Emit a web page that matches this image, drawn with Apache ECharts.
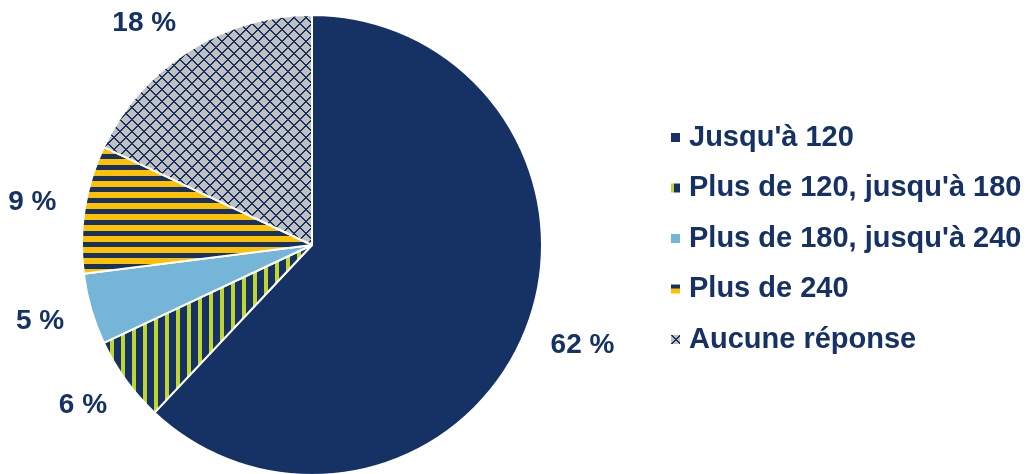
<!DOCTYPE html>
<html>
<head>
<meta charset="utf-8">
<script src="https://cdn.jsdelivr.net/npm/echarts@6/dist/echarts.min.js"></script>
<style>
html,body{margin:0;padding:0;background:#fff;}
#chart{width:1030px;height:474px;}
</style>
</head>
<body>
<div id="chart"></div>
<script>
var categories = ["Jusqu'à 120", "Plus de 120, jusqu'à 180", "Plus de 180, jusqu'à 240", "Plus de 240", "Aucune réponse"];
var shares = [62, 6, 5, 9, 18];

var NAVY = '#163264';
var FONT = '"Liberation Sans", Arial, sans-serif';
var CX = 312, CY = 245, R = 230, LABEL_R = 256, MIN_TOP = 9;

function makeTile(size, draw) {
  var c = document.createElement('canvas');
  c.width = size; c.height = size;
  var g = c.getContext('2d');
  draw(g, size);
  return c;
}
var vStripes = makeTile(11, function (g, s) {
  g.fillStyle = NAVY; g.fillRect(0, 0, s, s);
  g.fillStyle = '#bfd630'; g.fillRect(0, 0, 4, s);
});
var hStripes = makeTile(11, function (g, s) {
  g.fillStyle = '#ffc000'; g.fillRect(0, 0, s, s);
  g.fillStyle = NAVY; g.fillRect(0, 0, s, 5);
});
var hatch = makeTile(12, function (g, s) {
  g.fillStyle = '#c0c0c0'; g.fillRect(0, 0, s, s);
  g.fillStyle = NAVY;
  for (var i = 0; i < s; i++) {
    g.fillRect(i, i, 1, 1);
    g.fillRect((i + 1) % s, i, 1, 1);
    g.fillRect(s - 1 - i, i, 1, 1);
    g.fillRect((2 * s - 2 - i) % s, i, 1, 1);
  }
});

var fills = [
  NAVY,
  { image: vStripes, repeat: 'repeat' },
  '#75b5d8',
  { image: hStripes, repeat: 'repeat' },
  { image: hatch, repeat: 'repeat' }
];

var mainData = categories.map(function (n, i) {
  return { name: n, value: shares[i], itemStyle: { color: fills[i] } };
});
var labelData = categories.map(function (n, i) {
  return { name: n, value: shares[i] };
});

// Place each label box outward from its anchor point (Excel "outside end" style)
function outsideEnd(p) {
  var r = p.labelRect;
  var cx = r.x + r.width / 2, cy = r.y + r.height / 2;
  var vx = cx - CX, vy = cy - CY;
  var d = Math.sqrt(vx * vx + vy * vy) || 1;
  var ux = vx / d, uy = vy / d;
  var nx = cx + ux * r.width / 2;
  var ny = cy + uy * r.height / 2;
  if (ny - r.height / 2 < MIN_TOP) {
    var rho = Math.sqrt((nx - CX) * (nx - CX) + (ny - CY) * (ny - CY));
    ny = MIN_TOP + r.height / 2;
    var dyy = ny - CY;
    nx = CX + (nx < CX ? -1 : 1) * Math.sqrt(Math.max(0, rho * rho - dyy * dyy));
  }
  return { dx: nx - cx, dy: ny - cy };
}

var chart = echarts.init(document.getElementById('chart'), null, { renderer: 'canvas' });
chart.setOption({
  animation: false,
  legend: {
    orient: 'vertical',
    left: 664,
    top: 118,
    itemWidth: 11,
    itemHeight: 11,
    itemGap: 21.5,
    icon: 'rect',
    data: categories,
    textStyle: { fontFamily: FONT, fontSize: 29, fontWeight: 'bold', color: NAVY, lineHeight: 28, padding: [0, 0, 0, 3] }
  },
  series: [
    {
      type: 'pie',
      center: [CX, CY],
      radius: R,
      startAngle: 90,
      clockwise: true,
      avoidLabelOverlap: false,
      label: { show: false },
      labelLine: { show: false },
      itemStyle: { borderColor: '#ffffff', borderWidth: 2 },
      emphasis: { disabled: true },
      data: mainData
    },
    {
      type: 'pie',
      center: [CX, CY],
      radius: [LABEL_R - 6, LABEL_R + 6],
      startAngle: 90,
      clockwise: true,
      silent: true,
      legendHoverLink: false,
      itemStyle: { color: 'rgba(0,0,0,0)' },
      label: {
        show: true,
        position: 'inside',
        formatter: '{c} %',
        fontFamily: FONT,
        fontSize: 28,
        fontWeight: 'bold',
        color: NAVY
      },
      labelLayout: outsideEnd,
      labelLine: { show: false },
      emphasis: { disabled: true },
      data: labelData
    }
  ]
});
</script>
</body>
</html>
